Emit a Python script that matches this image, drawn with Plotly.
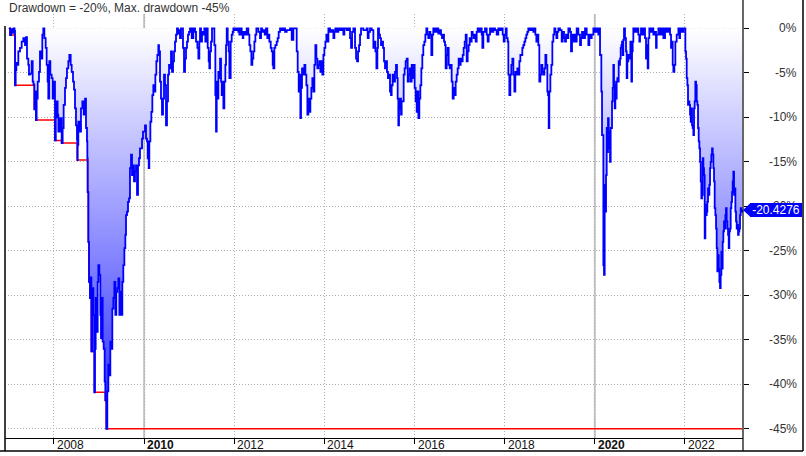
import numpy as np
import plotly.graph_objects as go

# ---------------- data (decimal year, drawdown %) ----------------
years_2007_2010 = [2007.001, 2007.025, 2007.050, 2007.075, 2007.100, 2007.125, 2007.135, 2007.150, 2007.165, 2007.179,
                   2007.209, 2007.246, 2007.283, 2007.320, 2007.357, 2007.379, 2007.401, 2007.430, 2007.445, 2007.467,
                   2007.504, 2007.527, 2007.545, 2007.564, 2007.578, 2007.600, 2007.615, 2007.638, 2007.667, 2007.689,
                   2007.712, 2007.741, 2007.763, 2007.786, 2007.815, 2007.837, 2007.859, 2007.874, 2007.896, 2007.919,
                   2007.948, 2007.970, 2008.000, 2008.022, 2008.040, 2008.059, 2008.081, 2008.096, 2008.133, 2008.170,
                   2008.192, 2008.214, 2008.244, 2008.266, 2008.288, 2008.318, 2008.340, 2008.370, 2008.392, 2008.422,
                   2008.444, 2008.466, 2008.488, 2008.510, 2008.518, 2008.525, 2008.540, 2008.577, 2008.599, 2008.629,
                   2008.658, 2008.688, 2008.710, 2008.732, 2008.740, 2008.747, 2008.762, 2008.777, 2008.799, 2008.814,
                   2008.829, 2008.851, 2008.873, 2008.895, 2008.910, 2008.925, 2008.947, 2008.969, 2008.984, 2009.006,
                   2009.028, 2009.043, 2009.058, 2009.080, 2009.102, 2009.124, 2009.139, 2009.161, 2009.183, 2009.206,
                   2009.228, 2009.250, 2009.272, 2009.294, 2009.317, 2009.339, 2009.361, 2009.383, 2009.405, 2009.428,
                   2009.450, 2009.472, 2009.494, 2009.516, 2009.538, 2009.561, 2009.583, 2009.598, 2009.620, 2009.642,
                   2009.664, 2009.686, 2009.709, 2009.731, 2009.753, 2009.775, 2009.797, 2009.820, 2009.842, 2009.864,
                   2009.886, 2009.908, 2009.930, 2009.953, 2009.975, 2009.997, 2010.019, 2010.041, 2010.064, 2010.078,
                   2010.101, 2010.115, 2010.138, 2010.160, 2010.182, 2010.204, 2010.226, 2010.249, 2010.271, 2010.293,
                   2010.315, 2010.330, 2010.352, 2010.374, 2010.396, 2010.419, 2010.441, 2010.463, 2010.485, 2010.507,
                   2010.530, 2010.552, 2010.574, 2010.596, 2010.618, 2010.641, 2010.663, 2010.685, 2010.707, 2010.729,
                   2010.751, 2010.774, 2010.796, 2010.818, 2010.840, 2010.862, 2010.885, 2010.907, 2010.929, 2010.951,
                   2010.973, 2010.996]
dd_2007_2010 = [0.0, -0.75, -0.1, -0.5, 0.0, -0.3, -6.4, -4.7, -3.9, -4.1,
                -2.6, -2.2, -1.5, -1.1, -1.9, -1.0, -3.4, -4.1, -5.2, -5.1,
                -3.7, -6.0, -6.3, -9.1, -7.1, -10.3, -7.9, -6.0, -4.9, -2.6,
                -3.4, -0.7, 0.0, -1.1, -2.2, -4.1, -6.0, -7.9, -3.7, -5.2,
                -5.6, -7.9, -6.0, -12.6, -10.0, -8.2, -9.7, -11.6, -10.1, -12.9,
                -11.2, -8.6, -6.7, -5.6, -4.5, -3.7, -3.0, -4.1, -4.9, -6.0,
                -6.9, -9.0, -10.9, -12.5, -14.8, -13.1, -10.5, -11.6, -9.0, -8.2,
                -9.7, -7.9, -11.2, -12.7, -14.6, -18.4, -24.0, -28.5, -30.3, -28.0,
                -36.3, -29.2, -32.2, -40.9, -36.0, -30.3, -34.1, -28.5, -26.6, -27.7,
                -32.2, -34.8, -30.3, -35.2, -36.0, -39.7, -41.8, -45.0, -40.8, -37.8,
                -39.0, -35.2, -36.0, -31.5, -30.3, -28.5, -32.2, -29.6, -29.2, -28.1,
                -32.2, -29.6, -32.2, -28.5, -26.6, -24.7, -23.2, -21.0, -20.6, -19.5,
                -19.1, -15.7, -14.2, -16.5, -15.4, -17.2, -16.1, -15.4, -18.7, -15.4,
                -14.6, -13.5, -13.5, -12.4, -11.6, -11.6, -10.9, -12.4, -12.7, -14.6,
                -15.7, -12.7, -10.5, -9.4, -7.5, -6.4, -7.1, -5.2, -3.7, -3.0,
                -1.9, -2.6, -6.0, -7.9, -9.7, -7.9, -5.2, -6.4, -10.9, -8.2,
                -5.2, -4.1, -4.5, -2.6, -4.9, -3.7, -2.6, -1.5, -0.7, 0.0,
                -0.6, -0.2, -1.1, 0.0, 0.0, -2.2, -4.9, -3.4, -2.2, -1.5,
                -0.7, -0.4]

years_2011_2015 = [2011.018, 2011.055, 2011.092, 2011.129, 2011.151, 2011.181, 2011.203, 2011.225, 2011.240, 2011.262,
                   2011.284, 2011.314, 2011.336, 2011.358, 2011.388, 2011.410, 2011.432, 2011.447, 2011.462, 2011.484,
                   2011.506, 2011.536, 2011.558, 2011.580, 2011.595, 2011.610, 2011.625, 2011.647, 2011.669, 2011.684,
                   2011.706, 2011.721, 2011.743, 2011.758, 2011.780, 2011.802, 2011.817, 2011.832, 2011.854, 2011.876,
                   2011.891, 2011.906, 2011.920, 2011.943, 2011.965, 2011.980, 2012.017, 2012.054, 2012.090, 2012.113,
                   2012.127, 2012.164, 2012.187, 2012.201, 2012.238, 2012.275, 2012.312, 2012.335, 2012.357, 2012.379,
                   2012.401, 2012.423, 2012.446, 2012.468, 2012.490, 2012.534, 2012.571, 2012.594, 2012.616, 2012.645,
                   2012.675, 2012.704, 2012.734, 2012.756, 2012.778, 2012.808, 2012.830, 2012.852, 2012.867, 2012.889,
                   2012.911, 2012.941, 2012.963, 2012.985, 2013.015, 2013.052, 2013.089, 2013.126, 2013.163, 2013.237,
                   2013.274, 2013.311, 2013.370, 2013.385, 2013.407, 2013.429, 2013.444, 2013.466, 2013.481, 2013.503,
                   2013.533, 2013.555, 2013.577, 2013.599, 2013.622, 2013.644, 2013.666, 2013.688, 2013.710, 2013.732,
                   2013.755, 2013.777, 2013.799, 2013.821, 2013.843, 2013.866, 2013.888, 2013.910, 2013.932, 2013.954,
                   2013.977, 2013.999, 2014.021, 2014.043, 2014.065, 2014.088, 2014.125, 2014.162, 2014.199, 2014.221,
                   2014.243, 2014.272, 2014.309, 2014.346, 2014.383, 2014.420, 2014.443, 2014.494, 2014.531, 2014.568,
                   2014.591, 2014.613, 2014.642, 2014.679, 2014.702, 2014.724, 2014.746, 2014.768, 2014.790, 2014.812,
                   2014.864, 2014.938, 2014.960, 2014.982, 2015.012, 2015.049, 2015.086, 2015.108, 2015.131, 2015.153,
                   2015.175]
dd_2011_2015 = [0.0, -1.1, 0.0, -0.4, -1.5, -2.2, -3.4, -1.5, 0.0, -1.5,
                -0.4, -0.7, 0.0, -1.5, 0.0, -2.2, -3.7, -4.5, -2.6, -1.5,
                0.0, 0.0, -1.9, -7.5, -11.6, -6.0, -7.9, -4.9, -5.6, -3.4,
                -6.0, -7.5, -6.0, -9.0, -6.0, -4.1, -1.9, 0.0, -1.5, -2.6,
                -5.6, -5.6, -1.5, -0.7, -0.4, 0.0, -0.2, 0.0, -0.4, -0.7,
                0.0, -0.7, -1.1, -0.4, -0.7, 0.0, -0.7, -1.9, -2.6, -4.1,
                -3.4, -2.6, -1.5, -0.7, 0.0, -0.4, -1.1, 0.0, -0.4, -0.2,
                -0.7, 0.0, -1.1, -0.7, -1.5, -2.2, -2.6, -4.1, -4.5, -2.2,
                -1.9, -1.5, -1.1, -0.4, 0.0, -0.2, 0.0, -0.4, -0.2, 0.0,
                -1.3, 0.0, 0.0, -2.6, -4.9, -7.1, -5.2, -10.1, -6.7, -4.5,
                -5.2, -4.1, -5.2, -6.4, -9.7, -7.9, -9.4, -7.9, -6.7, -5.6,
                -7.1, -4.1, -1.9, -3.4, -4.5, -4.1, -3.7, -4.9, -3.7, -5.2,
                -3.0, -2.2, -1.5, -0.7, -1.5, 0.0, -0.4, -0.2, -1.1, -0.4,
                0.0, -0.4, 0.0, -0.2, 0.0, -0.7, 0.0, -0.2, 0.0, -1.1,
                -2.2, -0.4, 0.0, -2.2, -3.4, -3.7, -2.6, -1.9, -0.7, 0.0,
                -0.2, 0.0, -1.1, -0.4, 0.0, -0.2, -2.2, -1.5, -2.6, -4.5,
                -2.2]

years_2015_2019 = [2015.189, 2015.211, 2015.233, 2015.255, 2015.277, 2015.300, 2015.322, 2015.344, 2015.366, 2015.388,
                   2015.410, 2015.433, 2015.455, 2015.477, 2015.492, 2015.514, 2015.536, 2015.566, 2015.588, 2015.610,
                   2015.625, 2015.640, 2015.655, 2015.677, 2015.699, 2015.714, 2015.736, 2015.758, 2015.780, 2015.802,
                   2015.825, 2015.847, 2015.869, 2015.891, 2015.913, 2015.936, 2015.958, 2015.980, 2016.002, 2016.024,
                   2016.047, 2016.061, 2016.084, 2016.106, 2016.128, 2016.150, 2016.172, 2016.194, 2016.217, 2016.239,
                   2016.261, 2016.283, 2016.305, 2016.328, 2016.350, 2016.372, 2016.394, 2016.416, 2016.453, 2016.490,
                   2016.527, 2016.564, 2016.586, 2016.609, 2016.631, 2016.653, 2016.675, 2016.690, 2016.712, 2016.734,
                   2016.757, 2016.779, 2016.801, 2016.823, 2016.845, 2016.868, 2016.890, 2016.912, 2016.934, 2016.956,
                   2016.978, 2017.001, 2017.023, 2017.045, 2017.067, 2017.089, 2017.112, 2017.134, 2017.156, 2017.178,
                   2017.200, 2017.222, 2017.245, 2017.267, 2017.289, 2017.311, 2017.333, 2017.356, 2017.378, 2017.400,
                   2017.422, 2017.452, 2017.489, 2017.504, 2017.526, 2017.563, 2017.600, 2017.622, 2017.644, 2017.674,
                   2017.711, 2017.748, 2017.785, 2017.822, 2017.859, 2017.896, 2017.933, 2017.955, 2017.977, 2017.999,
                   2018.021, 2018.044, 2018.066, 2018.081, 2018.103, 2018.125, 2018.147, 2018.169, 2018.192, 2018.214,
                   2018.236, 2018.258, 2018.280, 2018.303, 2018.325, 2018.347, 2018.369, 2018.391, 2018.413, 2018.436,
                   2018.458, 2018.480, 2018.502, 2018.524, 2018.561, 2018.598, 2018.635, 2018.658, 2018.680, 2018.702,
                   2018.724, 2018.746, 2018.768, 2018.791, 2018.813, 2018.835, 2018.857, 2018.879, 2018.902, 2018.924,
                   2018.946, 2018.961, 2018.976, 2018.990, 2019.013, 2019.035, 2019.057, 2019.079, 2019.101, 2019.124,
                   2019.146, 2019.168, 2019.190, 2019.227]
dd_2015_2019 = [0.0, -0.7, -1.1, -1.9, -1.5, -2.2, -3.7, -4.5, -3.7, -4.9,
                -5.6, -5.2, -7.1, -7.5, -6.4, -5.2, -6.0, -4.9, -4.1, -5.6,
                -7.9, -10.9, -9.0, -7.9, -9.7, -8.2, -8.2, -5.2, -4.5, -3.7,
                -3.4, -6.0, -5.2, -4.5, -6.0, -4.1, -5.6, -4.1, -6.7, -8.2,
                -9.4, -7.1, -10.1, -7.9, -6.4, -4.5, -3.0, -1.9, -1.5, -0.7,
                0.0, -0.7, -1.1, -0.4, -0.7, -3.0, -0.7, 0.0, -0.4, 0.0,
                -0.6, -0.2, -0.7, -1.1, -0.7, -1.5, -1.9, -4.5, -3.0, -2.2,
                -4.1, -4.5, -4.1, -6.0, -7.9, -6.7, -7.5, -6.0, -5.2, -4.5,
                -3.4, -4.1, -3.4, -3.7, -3.0, -2.2, -1.5, -0.7, -3.7, -2.6,
                -1.9, -1.1, -1.5, -0.4, -0.7, -1.1, -0.7, -1.5, -0.4, 0.0,
                -0.4, 0.0, -0.7, -2.2, -0.4, 0.0, -0.7, -1.5, -0.7, 0.0,
                -0.4, 0.0, -0.2, -0.7, 0.0, -0.2, 0.0, -0.7, -1.5, -0.7,
                0.0, -1.1, -1.5, -5.2, -7.5, -5.2, -4.1, -3.4, -5.2, -7.1,
                -4.9, -5.2, -4.5, -5.2, -3.7, -3.0, -3.0, -2.2, -1.9, -1.5,
                -1.1, -0.7, -0.4, 0.0, -0.2, 0.0, -0.4, 0.0, -0.7, -1.5,
                -0.7, -1.9, -6.0, -5.2, -4.1, -4.9, -5.2, -4.5, -3.0, -4.1,
                -7.1, -7.5, -11.2, -7.1, -5.2, -4.1, -1.5, -0.7, 0.0, -0.4,
                -1.1, -0.4, 0.0, -0.2]

years_2019_2021 = [2019.264, 2019.286, 2019.316, 2019.338, 2019.360, 2019.390, 2019.412, 2019.449, 2019.471, 2019.493,
                   2019.523, 2019.545, 2019.567, 2019.597, 2019.634, 2019.671, 2019.693, 2019.715, 2019.745, 2019.782,
                   2019.819, 2019.856, 2019.878, 2019.907, 2019.930, 2019.967, 2020.004, 2020.041, 2020.078, 2020.100,
                   2020.115, 2020.129, 2020.144, 2020.159, 2020.174, 2020.189, 2020.203, 2020.218, 2020.233, 2020.248,
                   2020.263, 2020.277, 2020.292, 2020.307, 2020.322, 2020.337, 2020.351, 2020.366, 2020.381, 2020.396,
                   2020.410, 2020.425, 2020.440, 2020.455, 2020.470, 2020.484, 2020.499, 2020.514, 2020.529, 2020.544,
                   2020.558, 2020.573, 2020.588, 2020.603, 2020.618, 2020.632, 2020.647, 2020.669, 2020.691, 2020.706,
                   2020.721, 2020.743, 2020.765, 2020.788, 2020.810, 2020.825, 2020.839, 2020.854, 2020.891, 2020.928,
                   2020.965, 2020.987, 2021.002, 2021.024, 2021.054, 2021.076, 2021.113, 2021.135, 2021.150, 2021.172,
                   2021.187, 2021.209, 2021.239, 2021.268, 2021.298, 2021.335, 2021.357, 2021.372, 2021.409, 2021.446,
                   2021.483, 2021.520, 2021.557, 2021.594, 2021.631, 2021.668, 2021.690, 2021.712, 2021.727, 2021.742,
                   2021.764, 2021.786, 2021.816, 2021.853, 2021.875, 2021.890, 2021.927, 2021.964, 2021.993]
dd_2019_2021 = [-1.5, -0.4, -1.1, -1.5, -0.7, -1.1, 0.0, -0.4, -2.6, -0.7,
                -1.5, -0.7, -1.5, 0.0, -0.7, -1.9, -1.1, -0.4, -1.1, 0.0,
                -0.7, -1.9, -0.7, -1.1, -0.7, 0.0, -0.4, 0.0, -0.7, 0.0,
                -3.0, -3.0, -7.1, -12.0, -12.0, -26.6, -27.7, -17.6, -20.6, -16.5,
                -11.2, -13.9, -10.1, -13.5, -11.6, -15.0, -11.2, -11.2, -8.2, -6.7,
                -4.1, -6.0, -9.0, -6.4, -7.9, -6.0, -5.6, -6.0, -3.7, -4.1,
                -3.4, -2.2, -1.9, -1.5, -3.0, -1.3, 0.0, -1.1, -2.6, -5.6,
                -3.7, -3.0, -3.4, -1.5, -6.0, -2.6, -1.5, 0.0, -0.4, 0.0,
                -0.7, -1.5, -0.7, 0.0, -0.7, 0.0, -1.1, -3.4, -1.9, -4.5,
                -1.1, 0.0, -0.4, 0.0, -0.7, -0.4, -2.2, -0.7, 0.0, -0.7,
                0.0, -1.1, 0.0, -0.4, 0.0, -0.7, -2.2, -1.5, -4.1, -4.9,
                -4.1, -1.5, -0.7, 0.0, -1.1, 0.0, -0.4, 0.0, 0.0]

years_2022_2023 = [2022.008, 2022.023, 2022.038, 2022.053, 2022.067, 2022.082, 2022.097, 2022.112, 2022.127, 2022.141,
                   2022.156, 2022.171, 2022.186, 2022.200, 2022.215, 2022.230, 2022.245, 2022.260, 2022.274, 2022.289,
                   2022.304, 2022.319, 2022.334, 2022.349, 2022.363, 2022.378, 2022.393, 2022.408, 2022.422, 2022.437,
                   2022.452, 2022.467, 2022.482, 2022.496, 2022.511, 2022.526, 2022.541, 2022.556, 2022.570, 2022.585,
                   2022.600, 2022.615, 2022.630, 2022.644, 2022.659, 2022.674, 2022.689, 2022.703, 2022.718, 2022.733,
                   2022.748, 2022.763, 2022.777, 2022.792, 2022.807, 2022.822, 2022.836, 2022.851, 2022.866, 2022.881,
                   2022.896, 2022.910, 2022.925, 2022.940, 2022.955, 2022.970, 2022.984, 2022.999, 2023.014, 2023.029,
                   2023.044, 2023.058, 2023.073, 2023.088, 2023.103, 2023.118, 2023.132, 2023.147, 2023.162, 2023.177,
                   2023.192, 2023.206, 2023.221, 2023.236, 2023.251, 2023.266]
dd_2022_2023 = [-2.6, -3.4, -5.6, -6.4, -8.6, -8.2, -8.6, -9.7, -10.5, -9.0,
                -10.9, -11.2, -12.0, -9.0, -8.2, -6.0, -6.4, -8.2, -8.6, -11.2,
                -12.7, -13.5, -15.0, -17.2, -19.1, -18.7, -14.6, -15.7, -16.5, -23.6,
                -19.8, -21.0, -20.6, -19.5, -18.0, -18.7, -17.6, -15.7, -15.0, -14.2,
                -13.5, -14.2, -15.7, -17.2, -20.2, -21.0, -22.5, -24.7, -27.3, -25.5,
                -27.0, -28.5, -29.2, -27.7, -25.1, -27.0, -24.0, -22.8, -21.7, -22.5,
                -21.0, -20.2, -21.7, -22.5, -23.2, -24.7, -22.8, -22.5, -20.2, -19.5,
                -18.4, -17.2, -16.1, -18.7, -18.0, -20.6, -21.7, -22.5, -22.1, -23.2,
                -22.8, -22.5, -21.0, -20.2, -20.6, -20.4276]

y_ticks = [0, -5, -10, -15, -20, -25, -30, -35, -40, -45]
y_tick_labels = ["0%", "-5%", "-10%", "-15%", "-20%", "-25%", "-30%", "-35%", "-40%", "-45%"]
x_ticks = [2008, 2010, 2012, 2014, 2016, 2018, 2020, 2022]
x_tick_labels = ["2008", "<b>2010</b>", "2012", "2014", "2016", "2018", "<b>2020</b>", "2022"]
decade_years = [2010, 2020]

years = np.concatenate([years_2007_2010, years_2011_2015, years_2015_2019, years_2019_2021, years_2022_2023])
drawdown = np.concatenate([dd_2007_2010, dd_2011_2015, dd_2015_2019, dd_2019_2021, dd_2022_2023])
max_dd = np.minimum.accumulate(drawdown)

# ---------------- geometry ----------------
W, H = 806, 456
PL, PR, PT, PB = 5, 743, 14, 438
X_RANGE = [2006.913, 2023.287]
Y_RANGE = [-46.03, 1.607]


def pxx(px):
    return (px - PL) / (PR - PL)


def pxy(py):
    return (PB - py) / (PB - PT)


def yv(v):
    return (v - Y_RANGE[0]) / (Y_RANGE[1] - Y_RANGE[0])


FONT = "Liberation Sans, Arial, sans-serif"
GRID_DASH = "1px,2px"

fig = go.Figure()
fig.add_trace(go.Scatter(
    x=years, y=drawdown, mode="lines", line=dict(width=0, shape="hv", color="rgba(0,0,0,0)"),
    fill="tozeroy",
    fillgradient=dict(type="vertical", start=-45, stop=0,
                      colorscale=[[0, "rgb(40,40,255)"], [1, "rgb(255,255,255)"]]),
    hoverinfo="skip", showlegend=False))
fig.add_trace(go.Scatter(x=years, y=max_dd, mode="lines",
                         line=dict(color="#ff0000", width=1.5, shape="hv"), showlegend=False))
fig.add_trace(go.Scatter(x=years, y=drawdown, mode="lines",
                         line=dict(color="#0000ff", width=1.8, shape="hv"), showlegend=False))

shapes = []
for yr in decade_years:
    shapes.append(dict(type="line", xref="x", yref="paper", x0=yr, x1=yr, y0=0, y1=1,
                       line=dict(color="#c4c4c4", width=2), layer="below"))
# frame lines
shapes.append(dict(type="line", xref="paper", yref="paper", x0=pxx(5), x1=pxx(5), y0=pxy(26), y1=pxy(451),
                   line=dict(color="black", width=1.5)))
shapes.append(dict(type="line", xref="paper", yref="paper", x0=1, x1=1, y0=pxy(0), y1=pxy(451),
                   line=dict(color="black", width=1.2)))
shapes.append(dict(type="line", xref="paper", yref="paper", x0=pxx(803), x1=pxx(803), y0=pxy(0), y1=pxy(451),
                   line=dict(color="black", width=1.5)))
shapes.append(dict(type="line", xref="paper", yref="paper", x0=pxx(0), x1=pxx(803), y0=pxy(451), y1=pxy(451),
                   line=dict(color="black", width=1.5)))

# last value tag: arrow tip (shape) + label box (annotation with background, drawn above the axis label)
last = float(drawdown[-1])
yc = yv(last)
hh = 7 / (PB - PT)
tip, body0 = pxx(743), pxx(750.5)
shapes.append(dict(type="path", xref="paper", yref="paper",
                   path=f"M {tip},{yc} L {body0},{yc + hh} L {body0},{yc - hh} Z",
                   fillcolor="#0000ff", line=dict(width=0)))

annotations = []
for v, t in zip(y_ticks, y_tick_labels):
    annotations.append(dict(xref="paper", yref="paper", x=pxx(799), y=yv(v), text=t, showarrow=False,
                            xanchor="right", yanchor="middle", font=dict(family=FONT, size=12, color="#333333")))
for v, t in zip(x_ticks, x_tick_labels):
    annotations.append(dict(xref="x", yref="paper", x=v, y=pxy(445), text=t, showarrow=False, xshift=1,
                            xanchor="left", yanchor="middle", font=dict(family=FONT, size=12, color="#111111")))
annotations.append(dict(xref="paper", yref="paper", x=pxx(750), y=yc, text=f"{last:.4f}", showarrow=False,
                        xanchor="left", yanchor="middle", width=52, height=14, align="center",
                        bgcolor="#0000ff", borderpad=0, borderwidth=0,
                        font=dict(family=FONT, size=12, color="white")))
title = f"Drawdown = {round(last):d}%, Max. drawdown {round(float(max_dd[-1])):d}%"
annotations.append(dict(xref="paper", yref="paper", x=pxx(7), y=pxy(8), text=title, showarrow=False,
                        xanchor="left", yanchor="middle", font=dict(family=FONT, size=12, color="#333333")))

fig.update_layout(
    width=W, height=H,
    margin=dict(l=PL, r=W - PR, t=PT, b=H - PB, pad=0),
    paper_bgcolor="white", plot_bgcolor="white",
    showlegend=False,
    xaxis=dict(range=X_RANGE, tickvals=x_ticks, showticklabels=False, ticks="outside", ticklen=5,
               tickcolor="black", showgrid=True, gridcolor="#b0b0b0", griddash=GRID_DASH, gridwidth=1,
               showline=True, linecolor="black", linewidth=1, zeroline=False, fixedrange=True),
    yaxis=dict(range=Y_RANGE, side="right", tickvals=y_ticks, showticklabels=False, ticks="outside",
               ticklen=5, tickcolor="black", showgrid=True, gridcolor="#b0b0b0", griddash=GRID_DASH,
               gridwidth=1, showline=False, zeroline=False, fixedrange=True),
    shapes=shapes,
    annotations=annotations,
)

fig.write_html("out.html", config={"displayModeBar": False},
               post_script="document.body.style.margin='0';document.body.style.padding='0';document.body.style.overflow='hidden';")
